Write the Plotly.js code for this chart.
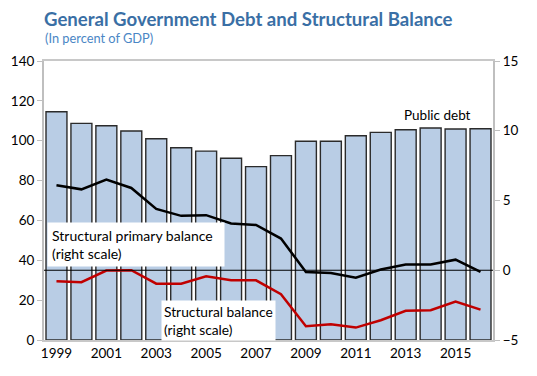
<!DOCTYPE html>
<html><head><meta charset="utf-8">
<script src="https://cdn.plot.ly/plotly-3.0.1.min.js"></script>
<style>html,body{margin:0;padding:0;background:#fff}#c{width:537px;height:376px}</style>
</head><body><div id="c"></div>
<script>
const years = [1999,2000,2001,2002,2003,2004,2005,2006,2007,2008,2009,2010,2011,2012,2013,2014,2015,2016];
const publicDebt = [114.5,108.7,107.5,104.9,101.0,96.5,94.8,91.2,87.0,92.5,99.7,99.7,102.5,104.2,105.5,106.4,105.9,106.0];
const structPrimary = [6.1,5.8,6.5,5.9,4.4,3.9,3.95,3.35,3.25,2.27,-0.12,-0.19,-0.53,0.05,0.41,0.41,0.76,-0.12];
const structBalance = [-0.79,-0.86,-0.02,0.0,-0.96,-0.96,-0.43,-0.72,-0.72,-1.72,-4.01,-3.87,-4.11,-3.58,-2.91,-2.87,-2.25,-2.82];

const FONT = 'Lato, "Open Sans", sans-serif';
const traces = [
  {type:'bar', x:years, y:publicDebt, name:'Public debt', yaxis:'y',
   marker:{color:'#b9cde5', line:{color:'#2b2b2b', width:1.4}}},
  {type:'scatter', mode:'lines', x:years, y:structBalance, yaxis:'y2', name:'Structural balance',
   line:{color:'#c00000', width:2.5}},
  {type:'scatter', mode:'lines', x:years, y:structPrimary, yaxis:'y2', name:'Structural primary balance',
   line:{color:'#000000', width:2.5}}
];
const layout = {
  width:537, height:376, margin:{l:44, r:44, t:61, b:36},
  paper_bgcolor:'#fff', plot_bgcolor:'#fff', showlegend:false,
  font:{family:FONT, size:13, color:'#000'},
  bargap:0.16,
  xaxis:{range:[1998.5,2016.5], tick0:1999, dtick:2, showgrid:false, zeroline:false,
    showline:true, linecolor:'#c8c8c8', linewidth:2, mirror:true, ticks:'', ticklen:0,
    tickfont:{family:FONT, size:13.5}},
  yaxis:{range:[0,140], dtick:20, showgrid:false, zeroline:false, showline:true,
    linecolor:'#bfbfbf', linewidth:2, ticks:'outside', ticklen:5, tickcolor:'#bfbfbf',
    tickfont:{family:FONT, size:13.5}},
  yaxis2:{range:[-5,15], dtick:5, overlaying:'y', side:'right', showgrid:false, zeroline:false,
    showline:true, linecolor:'#bfbfbf', linewidth:2, ticks:'outside', ticklen:5, tickcolor:'#bfbfbf',
    tickfont:{family:FONT, size:13.5}},
  shapes:[{type:'line', xref:'paper', x0:0, x1:1, yref:'y2', y0:0, y1:0, layer:'above',
    line:{color:'#000', width:1.2}}],
  annotations:[
    {xref:'paper', yref:'paper', x:-0.004, y:1.152, xanchor:'left', yanchor:'middle', showarrow:false,
     text:'<b>General Government Debt and Structural Balance</b>', font:{family:FONT, size:18.6, color:'#3a6fa5'}},
    {xref:'paper', yref:'paper', x:-0.002, y:1.083, xanchor:'left', yanchor:'middle', showarrow:false,
     text:'(In percent of GDP)', font:{family:FONT, size:12.8, color:'#4a86c5'}},
    {xref:'paper', yref:'paper', x:0.877, y:0.806, xanchor:'center', yanchor:'middle', showarrow:false,
     text:'Public debt', font:{family:FONT, size:13.5}},
    {xref:'paper', yref:'paper', x:0.007, y:0.423, xanchor:'left', yanchor:'top', showarrow:false,
     align:'left', bgcolor:'#ffffff', borderpad:4,
     text:'Structural primary balance  <br>(right scale)', font:{family:FONT, size:14}},
    {xref:'paper', yref:'paper', x:0.261, y:0.143, xanchor:'left', yanchor:'top', showarrow:false,
     align:'left', bgcolor:'#ffffff', borderpad:2,
     text:'Structural balance<br>(right scale)', font:{family:FONT, size:13.8}}
  ]
};
Plotly.newPlot('c', traces, layout, {staticPlot:true, displayModeBar:false});
</script></body></html>
